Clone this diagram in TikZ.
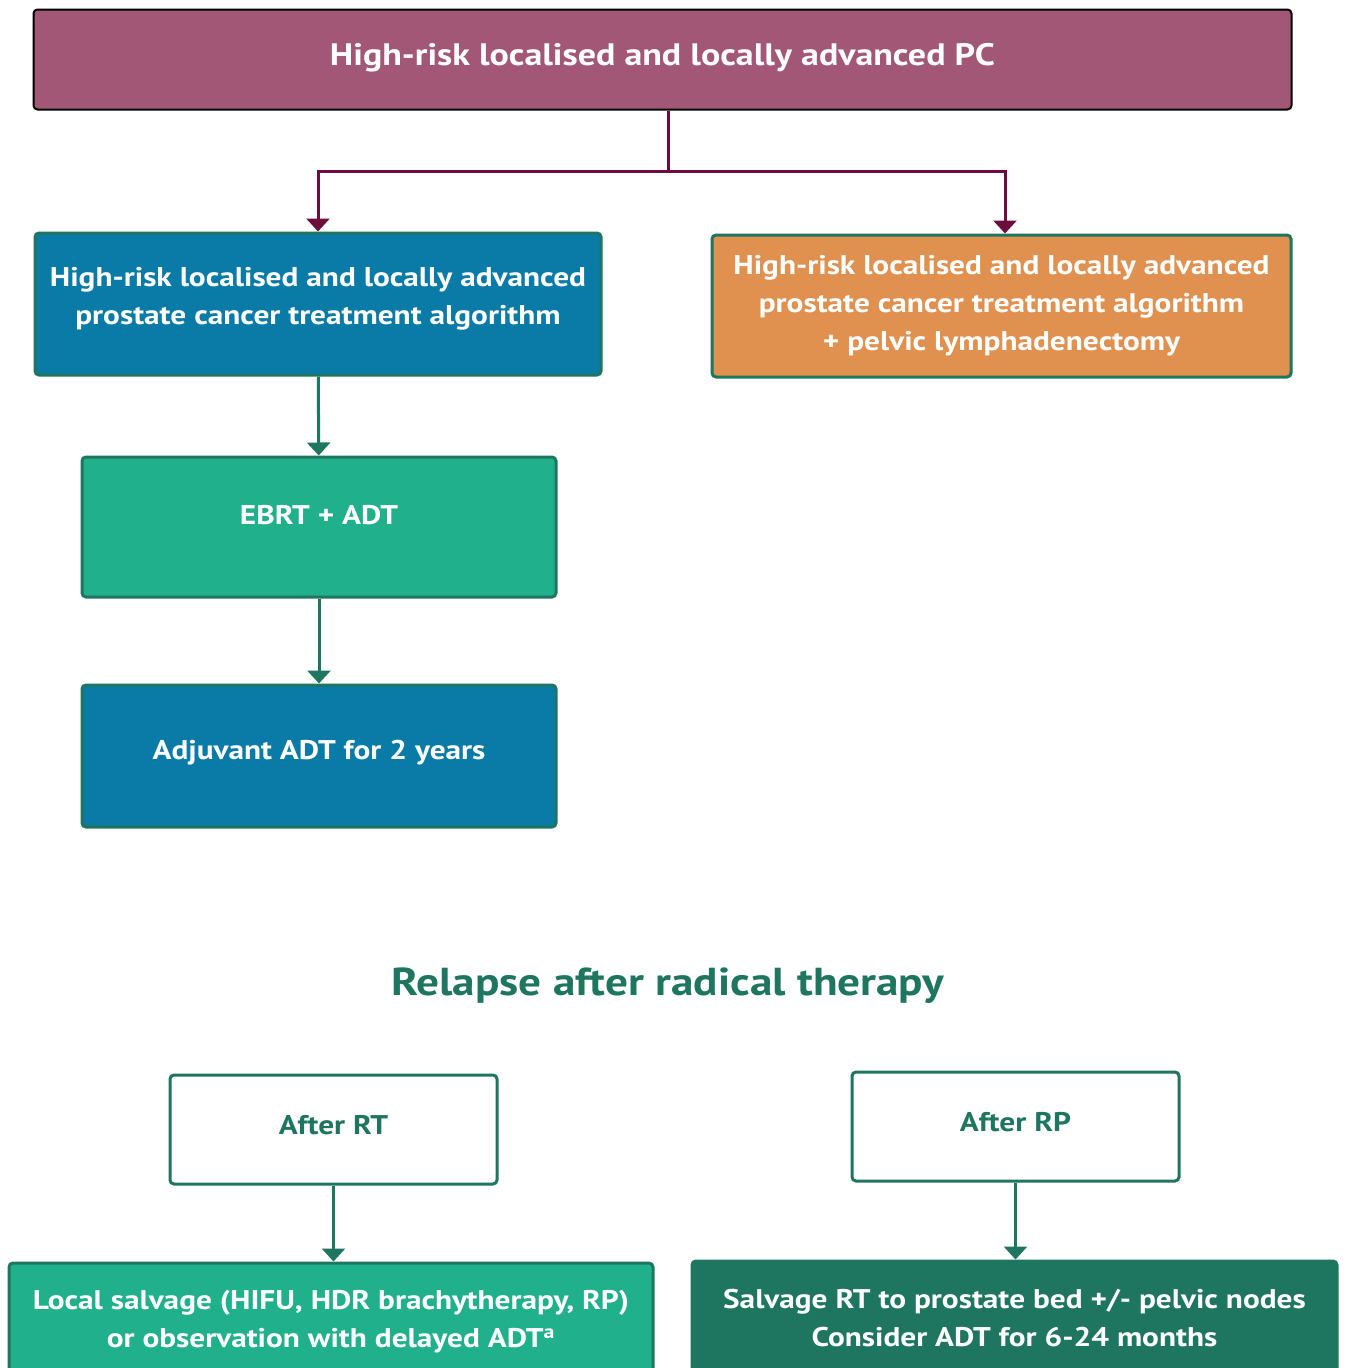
\documentclass[tikz,border=0pt]{standalone}
\usepackage{fontspec}
\setmainfont[FakeStretch=1.16]{PT Sans}
\usetikzlibrary{positioning,arrows.meta}

\definecolor{mauve}{HTML}{A35776}
\definecolor{maroon}{HTML}{6D0D3E}
\definecolor{ocean}{HTML}{0A7BA7}
\definecolor{apricot}{HTML}{E0904F}
\definecolor{teal}{HTML}{20B08C}
\definecolor{pine}{HTML}{1E7560}

\begin{document}
\begin{tikzpicture}[x=1pt,y=-1pt,
	box/.style={draw=pine,line width=3pt,rounded corners=4pt,align=center,inner sep=0pt,
		text=white,font=\fontsize{27}{38}\selectfont\bfseries},
	redarrow/.style={draw=maroon,line width=3pt,-{Triangle[width=23pt,length=13pt]}},
	greenarrow/.style={draw=pine,line width=3pt,-{Triangle[width=23pt,length=13pt]}}]

		\useasboundingbox (0,0) rectangle (1346,1368);
		\clip (0,0) rectangle (1346,1368);

		%top box
		\node[box,draw=black,line width=2pt,fill=mauve,minimum width=1258pt,minimum height=100pt,
			font=\fontsize{31}{38}\selectfont\bfseries,text depth=10pt] (top) at (662.5,59.5)
			{High-risk localised and locally advanced PC};
		\coordinate (split) at (668,171);

		%left column
		\node[box,fill=ocean,minimum width=566pt,minimum height=142pt,text depth=17pt] (alg) at (318,304)
			{High-risk localised and locally advanced\\prostate cancer treatment algorithm};
		\node[box,fill=teal,minimum width=474pt,minimum height=140pt,text depth=24pt] (ebrt) at (319,527)
			{EBRT + ADT};
		\node[box,fill=ocean,minimum width=474pt,minimum height=142pt,text depth=12pt] (adj) at (319,756)
			{Adjuvant ADT for 2 years};

		%right column
		\node[box,fill=apricot,minimum width=579pt,minimum height=142pt] (lnd) at (1001.5,306)
			{High-risk localised and locally advanced\\prostate cancer treatment algorithm\\+ pelvic lymphadenectomy};

		%relapse
		\node[text=pine,font=\fontsize{39}{44}\selectfont\bfseries] (relapse) at (668,986)
			{Relapse after radical therapy};

		\node[box,fill=white,text=pine,minimum width=327pt,minimum height=109pt,text depth=10pt] (rt) at (333.5,1129.5)
			{After RT};
		\node[box,fill=white,text=pine,minimum width=327pt,minimum height=109pt,text depth=10pt] (rp) at (1015.5,1126.5)
			{After RP};

		\node[box,fill=teal,minimum width=644pt,minimum height=118pt] (local) at (331,1322)
			{Local salvage (HIFU, HDR brachytherapy, RP)\\or observation with delayed ADT\textsuperscript{a}};
		\node[box,fill=pine,minimum width=645pt,minimum height=114pt] (salv) at (1014.5,1318)
			{Salvage RT to prostate bed +/- pelvic nodes\\Consider ADT for 6-24 months};

		%edges
		\draw[draw=maroon,line width=3pt] (top.south -| split) -- (split);
		\draw[redarrow] (split) -| ([xshift=3.5pt]lnd.north);
		\draw[redarrow] (split) -| (alg.north);
		\draw[greenarrow] (alg) -- (ebrt);
		\draw[greenarrow] (ebrt) -- (adj);
		\draw[greenarrow] (rt) -- (local.north -| rt);
		\draw[greenarrow] (rp) -- (salv.north -| rp);

\end{tikzpicture}
\end{document}
